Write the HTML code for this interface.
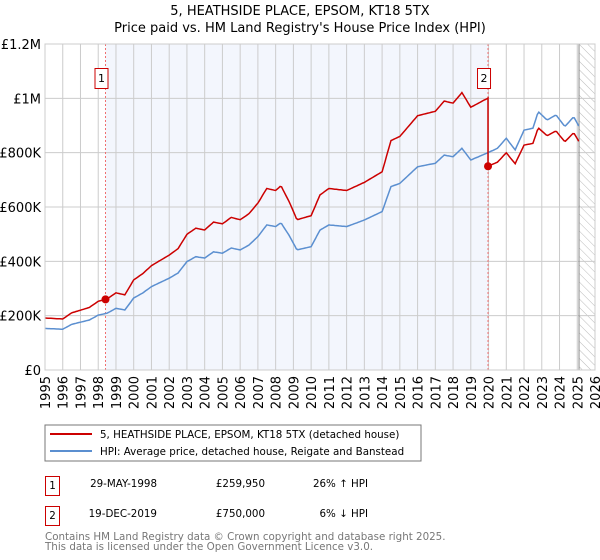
<!DOCTYPE html>
<html><head><meta charset="utf-8"><style>
body{margin:0;background:#fff;font-family:"DejaVu Sans","Liberation Sans",sans-serif;}
svg{display:block}
</style></head><body>
<svg id="chart" width="600" height="560" xmlns="http://www.w3.org/2000/svg" font-family="DejaVu Sans, Liberation Sans, sans-serif">
<text x="300" y="15" text-anchor="middle" font-size="13" fill="#000">5, HEATHSIDE PLACE, EPSOM, KT18 5TX</text>
<text x="300" y="32" text-anchor="middle" font-size="13" fill="#000">Price paid vs. HM Land Registry's House Price Index (HPI)</text>
<defs><pattern id="hatch" width="6" height="6" patternUnits="userSpaceOnUse" patternTransform="rotate(-45)"><line x1="0" y1="0" x2="0" y2="6" stroke="#bbb" stroke-width="1"/></pattern></defs>
<g id="plot"></g>
<rect x="45" y="425" width="376" height="36" fill="#fff" stroke="#777"/>
<line x1="50" y1="434" x2="92" y2="434" stroke="#cc0000" stroke-width="2"/>
<text x="100" y="438" font-size="10.3">5, HEATHSIDE PLACE, EPSOM, KT18 5TX (detached house)</text>
<line x1="50" y1="451" x2="92" y2="451" stroke="#5b8fd0" stroke-width="2"/>
<text x="100" y="455" font-size="10.3">HPI: Average price, detached house, Reigate and Banstead</text>
<g font-size="10.3">
<rect x="45.5" y="476.5" width="14" height="19" fill="#fff" stroke="#cc0000"/>
<text x="52.5" y="489" text-anchor="middle">1</text>
<text x="157" y="487" text-anchor="end">29-MAY-1998</text>
<text x="265" y="487" text-anchor="end">£259,950</text>
<text x="368" y="487" text-anchor="end">26% ↑ HPI</text>
<rect x="45.5" y="506.5" width="14" height="19" fill="#fff" stroke="#cc0000"/>
<text x="52.5" y="519" text-anchor="middle">2</text>
<text x="157" y="517" text-anchor="end">19-DEC-2019</text>
<text x="265" y="517" text-anchor="end">£750,000</text>
<text x="368" y="517" text-anchor="end">6% ↓ HPI</text>
</g>
<text x="45" y="540" font-size="10.3" fill="#777">Contains HM Land Registry data © Crown copyright and database right 2025.</text>
<text x="45" y="550" font-size="10.3" fill="#777">This data is licensed under the Open Government Licence v3.0.</text>
</svg>
<script>
const hpiYears=[1995,1996,1996.5,1997.5,1998,1998.5,1999,1999.5,2000,2000.5,2001,2002,2002.5,2003,2003.5,2004,2004.5,2005,2005.5,2006,2006.5,2007,2007.5,2008,2008.3,2008.8,2009.2,2010,2010.5,2011,2012,2013,2014,2014.5,2015,2016,2017,2017.5,2018,2018.5,2019,2019.9,2020.5,2021,2021.5,2022,2022.5,2022.8,2023.3,2023.8,2024.3,2024.8,2025.1];
const hpiValues=[153,150,168,184,202,209,227,221,265,283,307,338,357,399,417,412,435,430,449,442,460,491,534,528,542,491,442,454,515,534,528,552,583,675,687,748,761,791,785,816,773,798,816,853,810,883,890,951,920,939,896,932,896];
const saleYears=[1998.41,2019.97];
const salePrices=[259.95,750];
const saleLabels=["1","2"];
const yTicks=[0,200,400,600,800,1000,1200];
const yTickLabels=["£0","£200K","£400K","£600K","£800K","£1M","£1.2M"];
const xTicks=[];for(let y=1995;y<=2026;y++)xTicks.push(y);
const X0=45,X1=595,Y0=370,Y1=44,xMin=1995,xMax=2026,yMax=1200,dataEnd=2025.1;
const xs=v=>X0+(v-xMin)/(xMax-xMin)*(X1-X0);
const ys=v=>Y0-v/yMax*(Y0-Y1);
const NS="http://www.w3.org/2000/svg";
const g=document.getElementById('plot');
function mk(t,a,p){const e=document.createElementNS(NS,t);for(const k in a)e.setAttribute(k,a[k]);(p||g).appendChild(e);return e;}
function hpiAt(t){for(let i=0;i<hpiYears.length-1;i++){if(t<=hpiYears[i+1]){const f=(t-hpiYears[i])/(hpiYears[i+1]-hpiYears[i]);return hpiValues[i]+f*(hpiValues[i+1]-hpiValues[i]);}}return hpiValues[hpiValues.length-1];}
let r=mk('rect',{x:xs(saleYears[0]),y:Y1,width:xs(saleYears[1])-xs(saleYears[0]),height:Y0-Y1,fill:'#f3f6fd'});


r=mk('rect',{x:xs(dataEnd),y:Y1,width:X1-xs(dataEnd),height:Y0-Y1,fill:'url(#hatch)'});


yTicks.forEach((v,i)=>{
 let l=mk('line',{x1:X0,x2:X1,y1:ys(v),y2:ys(v),stroke:'#ccc','stroke-width':1});
 
 
 let t=mk('text',{x:X0-4,y:ys(v)+5,'text-anchor':'end','font-size':13});t.textContent=yTickLabels[i];
 
 
});
xTicks.forEach(v=>{
 let l=mk('line',{x1:xs(v),x2:xs(v),y1:Y1,y2:Y0,stroke:'#ccc','stroke-width':1});
 
 
 let t=mk('text',{x:0,y:0,'text-anchor':'end','font-size':13,transform:`translate(${xs(v)+5},${Y0+6}) rotate(-90)`});t.textContent=v;
 
 
});
let l=mk('line',{x1:xs(dataEnd),x2:xs(dataEnd),y1:Y1,y2:Y0,stroke:'#888','stroke-width':1});


saleYears.forEach((s,i)=>{
 let d=mk('line',{x1:xs(s),x2:xs(s),y1:Y1,y2:Y0,stroke:'#f07070','stroke-width':1,'stroke-dasharray':'2,2'});
 
 
});
const step=1/12;let hp='',rp='';
const r1=salePrices[0]/hpiAt(saleYears[0]),r2=salePrices[1]/hpiAt(saleYears[1]);
let prevRed=null;
for(let t=1995;t<=dataEnd+1e-6;t+=step){
 const h=hpiAt(t);hp+=(hp?'L':'M')+xs(t).toFixed(1)+','+ys(h).toFixed(1);
 let ratio=t<saleYears[1]?r1:r2;
 if(prevRed!==null&&t>=saleYears[1]&&t-step<saleYears[1]){rp+='L'+xs(saleYears[1]).toFixed(1)+','+ys(hpiAt(saleYears[1])*r1).toFixed(1)+'L'+xs(saleYears[1]).toFixed(1)+','+ys(salePrices[1]).toFixed(1);}
 rp+=(rp?'L':'M')+xs(t).toFixed(1)+','+ys(h*ratio).toFixed(1);prevRed=1;
}
let p=mk('path',{d:hp,fill:'none',stroke:'#5b8fd0','stroke-width':1.5});


p=mk('path',{d:rp,fill:'none',stroke:'#cc0000','stroke-width':1.5});


saleYears.forEach((s,i)=>{
 let c=mk('circle',{cx:xs(s),cy:ys(salePrices[i]),r:4,fill:'#cc0000'});
 
 
 let b=mk('rect',{x:xs(s)-10.5,y:68.5,width:13,height:20,fill:'#fff',stroke:'#cc0000'});
 
 
 let t=mk('text',{x:xs(s)-4,y:82,'text-anchor':'middle','font-size':11});t.textContent=saleLabels[i];
 
 
});
let bd=mk('rect',{x:X0,y:Y1,width:X1-X0,height:Y0-Y1,fill:'none',stroke:'#ccc'});


</script>
</body></html>
